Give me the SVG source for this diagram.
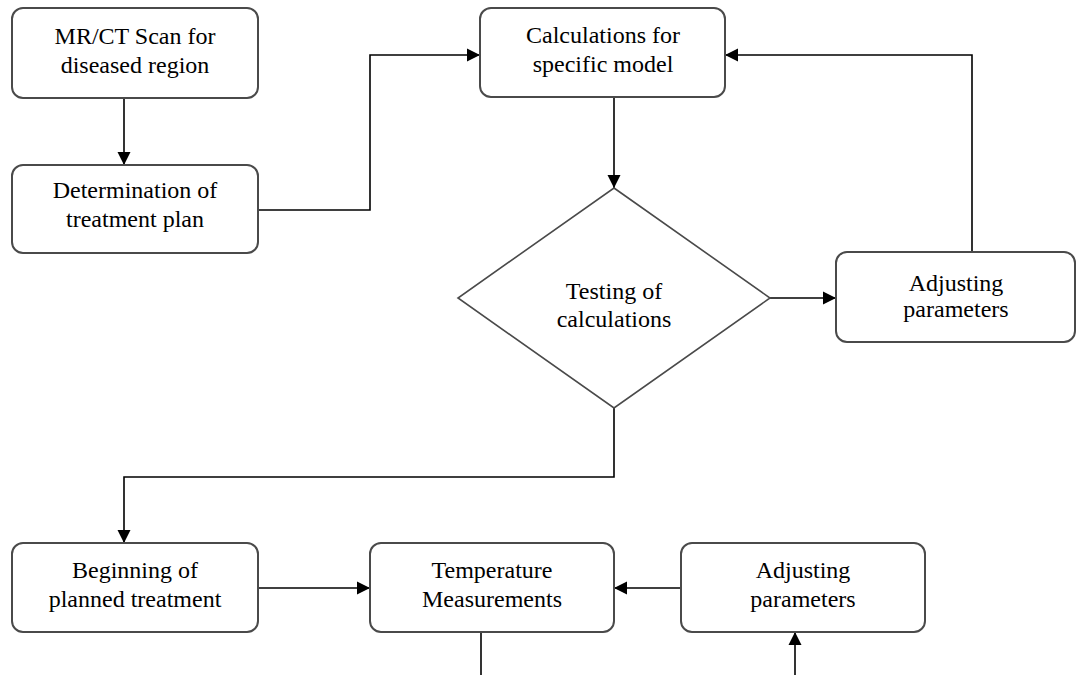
<svg xmlns="http://www.w3.org/2000/svg" width="1076" height="675" viewBox="0 0 1076 675">
<style>
.box{fill:#fff;stroke:#4a4a4a;stroke-width:2}
.t{font-family:"Liberation Serif","Times New Roman",serif;font-size:24px;fill:#000;text-anchor:middle}
.c{fill:none;stroke:#000;stroke-width:1.6}
</style>
<defs>
<marker id="ah" markerWidth="14" markerHeight="14" refX="13" refY="7" orient="auto" markerUnits="userSpaceOnUse">
<path d="M0,0.5 L13,7 L0,13.5 Z" fill="#000"/>
</marker>
</defs>
<rect width="1076" height="675" fill="#fff"/>
<g id="connectors">
<path class="c" d="M124,98 V165" marker-end="url(#ah)"/>
<path class="c" d="M258,210 H370 V55 H480" marker-end="url(#ah)"/>
<path class="c" d="M614,97 V188" marker-end="url(#ah)"/>
<path class="c" d="M770,298 H836" marker-end="url(#ah)"/>
<path class="c" d="M972,252 V55 H725" marker-end="url(#ah)"/>
<path class="c" d="M614,408 V477 H124 V543" marker-end="url(#ah)"/>
<path class="c" d="M258,588 H370" marker-end="url(#ah)"/>
<path class="c" d="M681,588 H614" marker-end="url(#ah)"/>
<path class="c" d="M481,632 V675"/>
<path class="c" d="M795,675 V632" marker-end="url(#ah)"/>
</g>
<g id="n1"><rect class="box" x="12" y="8" width="246" height="90" rx="11"/>
<text class="t" x="135" y="44">MR/CT Scan for</text><text class="t" x="135" y="73">diseased region</text></g>
<g id="n2"><rect class="box" x="12" y="165" width="246" height="88" rx="11"/>
<text class="t" x="135" y="198">Determination of</text><text class="t" x="135" y="227">treatment plan</text></g>
<g id="n3"><rect class="box" x="480" y="8" width="245" height="89" rx="11"/>
<text class="t" x="603" y="43">Calculations for</text><text class="t" x="603" y="72">specific model</text></g>
<g id="n4"><polygon class="box" points="614,188 770,298 614,408 458,298" style="stroke-width:1.6"/>
<text class="t" x="614" y="299">Testing of</text><text class="t" x="614" y="327">calculations</text></g>
<g id="n5"><rect class="box" x="836" y="252" width="239" height="90" rx="11"/>
<text class="t" x="956" y="291">Adjusting</text><text class="t" x="956" y="317">parameters</text></g>
<g id="n6"><rect class="box" x="12" y="543" width="246" height="89" rx="11"/>
<text class="t" x="135" y="578">Beginning of</text><text class="t" x="135" y="607">planned treatment</text></g>
<g id="n7"><rect class="box" x="370" y="543" width="244" height="89" rx="11"/>
<text class="t" x="492" y="578">Temperature</text><text class="t" x="492" y="607">Measurements</text></g>
<g id="n8"><rect class="box" x="681" y="543" width="244" height="89" rx="11"/>
<text class="t" x="803" y="578">Adjusting</text><text class="t" x="803" y="607">parameters</text></g>
</svg>
